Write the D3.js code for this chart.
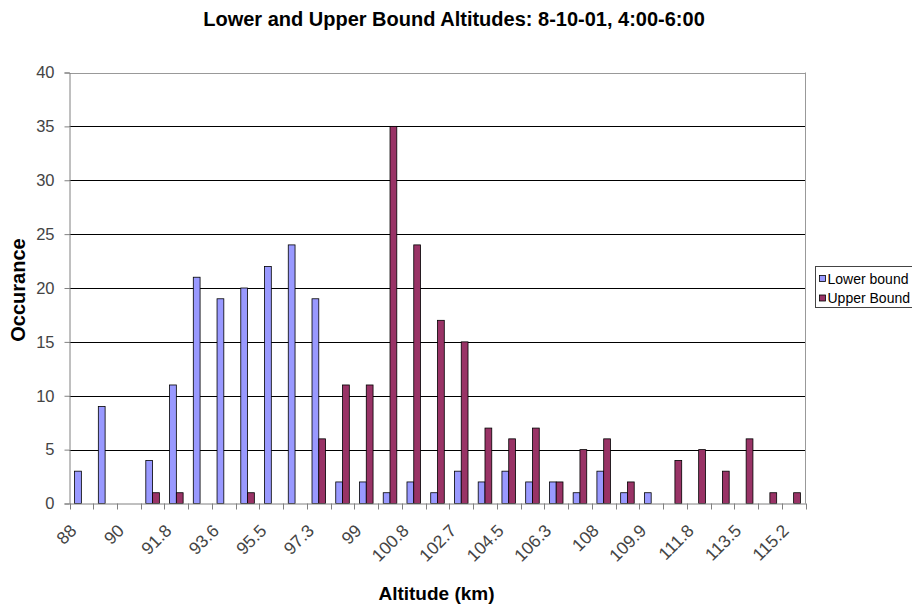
<!DOCTYPE html>
<html>
<head>
<meta charset="utf-8">
<script src="https://cdn.jsdelivr.net/npm/d3@7"></script>
<style>
  html, body { margin: 0; padding: 0; background: #fff; }
  svg { display: block; font-family: "Liberation Sans", Arial, sans-serif; }
</style>
</head>
<body>
<svg id="chart" width="912" height="604"></svg>
<script>
// ---- data ----
const categories = ["88","89","90","90.9","91.8","92.7","93.6","94.6","95.5","96.4","97.3","98.2","99","99.9","100.8","101.8","102.7","103.6","104.5","105.4","106.3","107.2","108","109","109.9","110.9","111.8","112.7","113.5","114.4","115.2"];
const lowerBound = [3,9,0,4,11,21,19,20,22,24,19,2,2,1,2,1,3,2,3,2,2,1,3,1,1,0,0,0,0,0,0];
const upperBound = [0,0,0,1,1,0,0,1,0,0,6,11,11,35,24,17,15,7,6,7,2,5,6,2,0,4,5,3,6,1,1];
const seriesNames = ["Lower bound", "Upper Bound"];
const seriesColors = ["#9999FF", "#993366"];
const yTicks = [0,5,10,15,20,25,30,35,40];
const titleText = "Lower and Upper Bound Altitudes: 8-10-01, 4:00-6:00";
const xTitle = "Altitude (km)";
const yTitle = "Occurance";

// ---- layout ----
const svg = d3.select("#chart");
const L = 69.5, R = 805.5, T = 72.5, B = 503.5;

const x = d3.scaleBand().domain(categories).range([L, R]).paddingInner(0).paddingOuter(0);
const xs = d3.scaleBand().domain(seriesNames).range([0, x.bandwidth()]).paddingInner(0).paddingOuter(0.75);
const y = d3.scaleLinear().domain([0, 40]).range([B, T]);

// gridlines
svg.append("g").selectAll("line").data(yTicks.filter(d => d > 0)).join("line")
  .attr("x1", L).attr("x2", R)
  .attr("y1", d => Math.round(y(d)) + 0.5).attr("y2", d => Math.round(y(d)) + 0.5)
  .attr("stroke", d => d === 40 ? "#999" : "#000").attr("stroke-width", 1);

// right border
svg.append("line").attr("x1", R).attr("x2", R).attr("y1", T).attr("y2", B)
  .attr("stroke", "#999");

// bars
const rows = categories.map((c, i) => ({ c, vals: [lowerBound[i], upperBound[i]] }));
const grp = svg.append("g").selectAll("g").data(rows).join("g")
  .attr("transform", d => `translate(${x(d.c)},0)`);
grp.selectAll("rect").data(d => d.vals.map((v, k) => ({ v, k })).filter(e => e.v > 0)).join("rect")
  .attr("x", e => xs(seriesNames[e.k]))
  .attr("width", xs.bandwidth())
  .attr("y", e => y(e.v))
  .attr("height", e => y(0) - y(e.v))
  .attr("fill", e => seriesColors[e.k])
  .attr("stroke", "#000").attr("stroke-width", 0.8);

// y axis
const yAxis = d3.axisLeft(y).tickValues(yTicks).tickSize(5).tickPadding(10);
const gy = svg.append("g").attr("transform", `translate(${L},0)`).call(yAxis);
gy.select(".domain").attr("stroke", "#808080");
gy.selectAll(".tick line").attr("stroke", "#808080");
gy.selectAll(".tick text").attr("font-size", 16.5).attr("fill", "#444")
  .attr("font-family", "Liberation Sans, Arial, sans-serif");

// x axis
const xAxis = d3.axisBottom(x).tickSize(0).tickFormat(() => "");
const gx = svg.append("g").attr("transform", `translate(0,${B})`).call(xAxis);
gx.select(".domain").attr("stroke", "#808080");
gx.selectAll(".tick").remove();
// boundary tick marks
const bounds = categories.map(c => x(c)).concat([R]);
gx.selectAll("line.bt").data(bounds).join("line").attr("class", "bt")
  .attr("x1", d => Math.round(d) + 0.5).attr("x2", d => Math.round(d) + 0.5)
  .attr("y1", 0).attr("y2", 6).attr("stroke", "#808080");
// labels on every other category
gx.selectAll("text.xl").data(categories.filter((c, i) => i % 2 === 0)).join("text")
  .attr("class", "xl")
  .attr("transform", d => `translate(${x(d) + x.bandwidth() / 2 - 8},${24}) rotate(-45)`)
  .attr("text-anchor", "end")
  .attr("dominant-baseline", "central")
  .attr("font-size", 17.5).attr("fill", "#444")
  .text(d => d);

// titles
svg.append("text").attr("x", 454).attr("y", 26).attr("text-anchor", "middle")
  .attr("font-size", 20).attr("font-weight", "bold").attr("fill", "#000").text(titleText);
svg.append("text").attr("x", 436.5).attr("y", 600).attr("text-anchor", "middle")
  .attr("font-size", 19).attr("font-weight", "bold").attr("fill", "#000").text(xTitle);
svg.append("text").attr("transform", "translate(25,290) rotate(-90)").attr("text-anchor", "middle")
  .attr("font-size", 20).attr("font-weight", "bold").attr("fill", "#000").text(yTitle);

// legend
const lg = svg.append("g");
lg.append("rect").attr("x", 815.5).attr("y", 266.5).attr("width", 100).attr("height", 41)
  .attr("fill", "#fff").attr("stroke", "#444");
const li = lg.selectAll("g").data(seriesNames).join("g")
  .attr("transform", (d, i) => `translate(819,${278.5 + i * 19.5})`);
li.append("rect").attr("x", 0.5).attr("y", -3).attr("width", 6).attr("height", 6)
  .attr("fill", (d, i) => seriesColors[i]).attr("stroke", "#000").attr("stroke-width", 0.8);
li.append("text").attr("x", 8.5).attr("y", 0).attr("dominant-baseline", "central")
  .attr("font-size", 14).attr("fill", "#000").text(d => d);
</script>
</body>
</html>
